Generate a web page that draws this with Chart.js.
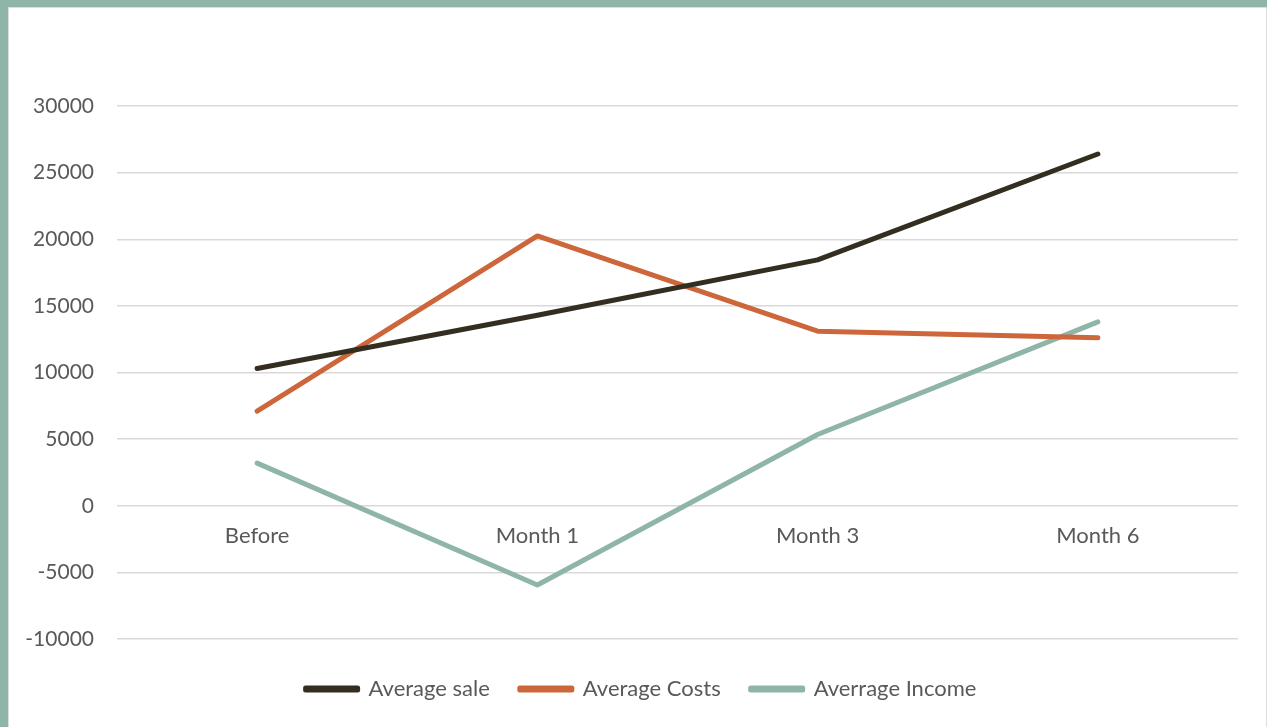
<!DOCTYPE html>
<html lang="en">
<head>
    <meta charset="UTF-8">
    <title>Average sale, costs and income</title>
    <script src="https://cdn.jsdelivr.net/npm/chart.js@4.4.1/dist/chart.umd.min.js"></script>
    <style>
        html, body {
            margin: 0;
            padding: 0;
            background: #ffffff;
        }
        .frame {
            position: absolute;
            left: 0;
            top: 0;
            width: 1259px;
            height: 720px;
            border-top: 7px solid #8fb5a8;
            border-left: 8px solid #8fb5a8;
        }
        .panel {
            width: 1257px;
            height: 719px;
            border-top: 1px solid #dedede;
            border-left: 1px solid #dedede;
            border-right: 1px solid #dedede;
        }
    </style>
</head>
<body>
    <div class="frame">
        <div class="panel">
            <canvas id="myChart" width="1257" height="719"></canvas>
        </div>
    </div>

    <script>
        const categories = ['Before', 'Month 1', 'Month 3', 'Month 6'];
        const averageSale = [10300, 14300, 18450, 26400];
        const averageCosts = [7100, 20250, 13100, 12600];
        const averageIncome = [3200, -5950, 5350, 13800];
        const yTicks = [-10000, -5000, 0, 5000, 10000, 15000, 20000, 25000, 30000];

        const textColor = '#595959';
        const fontFamily = 'Lato, "Open Sans", sans-serif';

        function lineSet(label, data, color) {
            return {
                label: label,
                data: data,
                borderColor: color,
                backgroundColor: color,
                borderWidth: 5,
                borderCapStyle: 'round',
                borderJoinStyle: 'round',
                pointRadius: 0,
                pointHoverRadius: 0,
                tension: 0
            };
        }

        const ctx = document.getElementById('myChart');
        const myChart = new Chart(ctx, {
            type: 'line',
            data: {
                labels: categories,
                datasets: [
                    lineSet('Average sale', averageSale, '#332e20'),
                    lineSet('Average Costs', averageCosts, '#cd663a'),
                    lineSet('Averrage Income', averageIncome, '#8fb5a8')
                ]
            },
            options: {
                responsive: false,
                animation: false,
                layout: {
                    padding: {top: 98, left: 7, right: 0, bottom: 17}
                },
                plugins: {
                    tooltip: {enabled: false},
                    legend: {
                        position: 'bottom',
                        // empty title just keeps some room between the axis labels and the keys
                        title: {
                            display: true,
                            text: '',
                            font: {size: 5},
                            padding: {top: 3, bottom: 0}
                        },
                        labels: {
                            color: textColor,
                            font: {family: fontFamily, size: 22},
                            boxWidth: 52,
                            boxHeight: 2,
                            padding: 30
                        }
                    }
                },
                scales: {
                    x: {
                        position: {y: 0},
                        offset: true,
                        grid: {display: false, drawTicks: false},
                        border: {display: false},
                        ticks: {
                            color: textColor,
                            font: {family: fontFamily, size: 22},
                            padding: 17,
                            maxRotation: 0
                        }
                    },
                    y: {
                        min: -10000,
                        max: 30000,
                        afterBuildTicks: function (scale) {
                            scale.ticks = yTicks.map(v => ({value: v}));
                        },
                        grid: {
                            color: '#d9d9d9',
                            lineWidth: 1.5,
                            drawTicks: false
                        },
                        border: {display: false},
                        ticks: {
                            color: textColor,
                            font: {family: fontFamily, size: 21},
                            padding: 23,
                            callback: function (value) {
                                return String(value);
                            }
                        },
                        afterFit: function (scale) {
                            scale.width = 101;
                        }
                    },
                    // blank right-hand margin beside the plot
                    yRight: {
                        position: 'right',
                        min: -10000,
                        max: 30000,
                        grid: {display: false, drawTicks: false},
                        border: {display: false},
                        ticks: {display: false},
                        afterFit: function (scale) {
                            scale.width = 28;
                        }
                    }
                }
            }
        });
    </script>
</body>
</html>
